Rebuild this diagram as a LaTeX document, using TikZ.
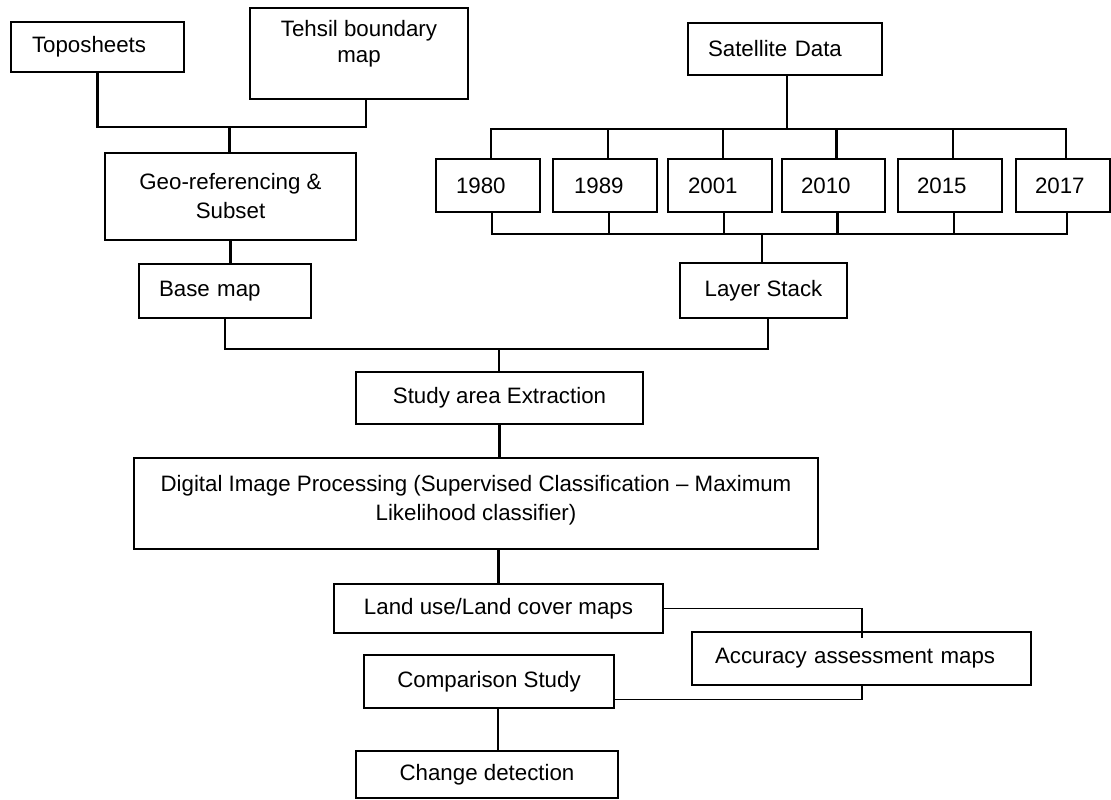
\documentclass[tikz,border=0pt]{standalone}
\usepackage{fontspec}
\setmainfont{Liberation Sans}
\usepackage{tikz}
\usetikzlibrary{positioning, calc}
\newcommand{\boxfont}{\fontsize{22.3pt}{29pt}\selectfont}
\tikzset{
  box/.style={draw, line width=2pt, inner sep=0pt, anchor=north west, align=center, font=\boxfont},
  conn/.style={line width=2.6pt, line cap=rect},
  thinconn/.style={line width=1.3pt},
}

\begin{document}
\begin{tikzpicture}[x=1pt, y=-1pt]
\useasboundingbox (0,0) rectangle (1111,800);
% Map inputs
\node[box, minimum width=173pt, minimum height=50pt, inner xsep=21pt, text width=131pt, align=left] (topo) at (10,21) {Toposheets};
\node[box, minimum width=218pt, minimum height=91pt, font={\fontsize{22.3pt}{26pt}\selectfont}, text depth=24pt] (tehsil) at (249,7) {Tehsil boundary\\map};
\node[box, minimum width=251pt, minimum height=87pt] (geo) at (104,152) {Geo-referencing \&\\Subset};
\node[box, minimum width=172pt, minimum height=54pt, inner xsep=20pt, text width=132pt, align=left] (base) at (138,263) {Base map};

% Satellite data and years
\node[box, minimum width=194pt, minimum height=52pt, inner xsep=20pt, text width=154pt, align=left] (sat) at (687,22) {Satellite Data};
\foreach \yr/\xl/\w/\pd/\tw in {1980/435/104/20/64, 1989/552/104/21/62, 2001/667/104/20/64, 2010/781/103/19/65, 2015/897/104/19/66, 2017/1015/94/19/56}
  \node[box, minimum width=\w pt, minimum height=53pt, inner xsep=\pd pt, text width=\tw pt, align=left] (y\yr) at (\xl,158) {\yr};
\node[box, minimum width=167pt, minimum height=55pt] (layer) at (679,262) {Layer Stack};

% Processing chain
\node[box, minimum width=287pt, minimum height=52pt] (study) at (355,371) {Study area Extraction};
\node[box, minimum width=684pt, minimum height=91pt, text depth=12pt] (dip) at (133,457) {Digital Image Processing (Supervised Classification -- Maximum\\Likelihood classifier)};
\node[box, minimum width=329pt, minimum height=49pt] (lu) at (333,583) {Land use/Land cover maps};
\node[box, minimum width=339pt, minimum height=53pt, inner xsep=23pt, text width=293pt, align=left] (acc) at (691,631) {Accuracy assessment maps};
\node[box, minimum width=250pt, minimum height=53pt] (comp) at (363,654) {Comparison Study};
\node[box, minimum width=262pt, minimum height=47pt] (cd) at (355,750) {Change detection};

% Map inputs to base map
\coordinate (jmap) at (229.5,127);
\draw[conn] (topo.south) |- (jmap) -| ([xshift=7pt]tehsil.south);
\draw[conn] (jmap) -- (jmap |- geo.north);
\draw[conn] (geo.south) -- (geo.south |- base.north);

% Satellite data to layer stack
\coordinate (ytop) at (787,129);
\coordinate (ybot) at (762,234);
\draw[conn] (sat.south -| ytop) -- (ytop);
\draw[conn] ([xshift=3pt]y1980.north |- ytop) -- ([xshift=3pt]y2017.north |- ytop);
\draw[conn] ([xshift=4pt]y1980.south |- ybot) -- ([xshift=4pt]y2017.south |- ybot);
\foreach \yr in {1980,1989,2001,2010,2015,2017} {
  \draw[conn] ([xshift=3pt]y\yr.north) -- ([xshift=3pt]y\yr.north |- ytop);
  \draw[conn] ([xshift=4pt]y\yr.south) -- ([xshift=4pt]y\yr.south |- ybot);
}
\draw[conn] (ybot) -- (ybot |- layer.north);

% Merge into study area
\coordinate (jmerge) at (499,349);
\draw[conn] (base.south) |- (jmerge) -| ([xshift=4.5pt]layer.south);
\draw[conn] (jmerge) -- (jmerge |- study.north);

% Processing chain
\draw[conn] (study.south) -- (study.south |- dip.north);
\draw[conn] (lu.north) -- (lu.north |- dip.south);
\draw[conn] ([xshift=9pt]comp.south) -- ([xshift=9pt]comp.south |- cd.north);

% Accuracy assessment
\coordinate (jacc) at (862,638);
\draw[thinconn] (lu.east) -| (jacc);
\draw[thinconn] ([yshift=-18pt]comp.east) -| (acc.south -| jacc);
\end{tikzpicture}
\end{document}
